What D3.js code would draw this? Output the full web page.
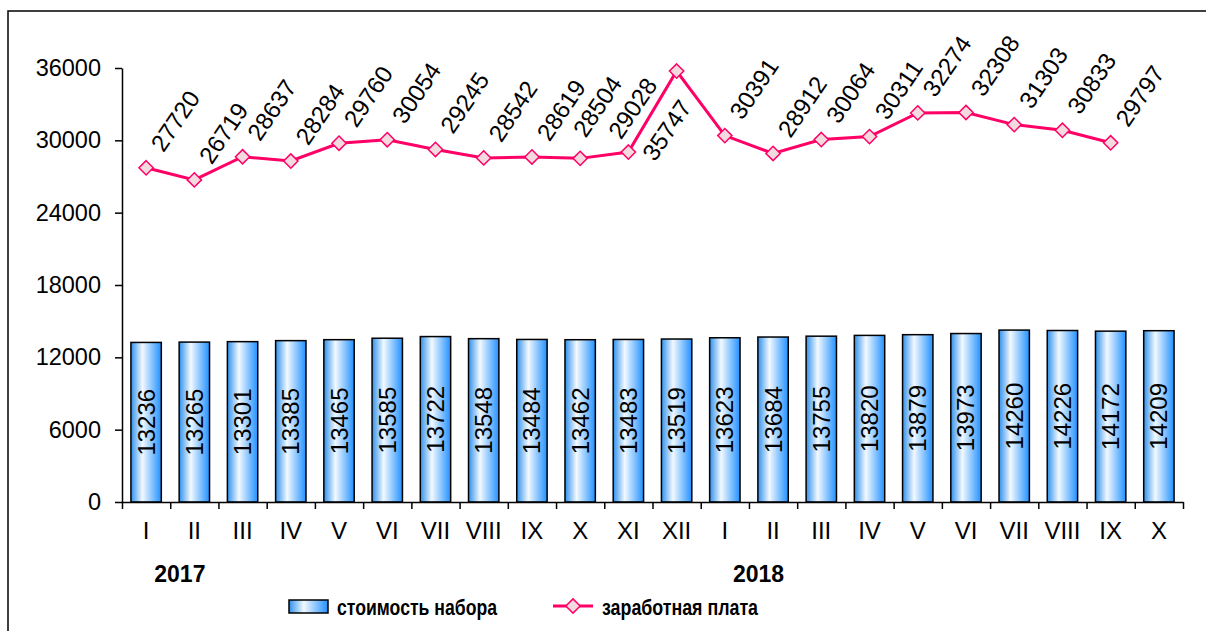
<!DOCTYPE html>
<html>
<head>
<meta charset="utf-8">
<script src="https://cdn.jsdelivr.net/npm/d3@7"></script>
<style>
  body { margin: 0; background: #fff; }
  text { font-family: Arial, "Liberation Sans", sans-serif; }
</style>
</head>
<body>
<div id="chart"></div>
<script>
// chart data
var months = ["I", "II", "III", "IV", "V", "VI", "VII", "VIII", "IX", "X", "XI", "XII",
              "I", "II", "III", "IV", "V", "VI", "VII", "VIII", "IX", "X"];
var years = [{label: "2017", start: 0}, {label: "2018", start: 12}];
var basketCost = [13236, 13265, 13301, 13385, 13465, 13585, 13722, 13548, 13484, 13462, 13483, 13519,
                  13623, 13684, 13755, 13820, 13879, 13973, 14260, 14226, 14172, 14209];
var salary = [27720, 26719, 28637, 28284, 29760, 30054, 29245, 28542, 28619, 28504, 29028, 35747,
              30391, 28912, 30064, 30311, 32274, 32308, 31303, 30833, 29797];
var yTicks = [0, 6000, 12000, 18000, 24000, 30000, 36000];
var seriesNames = ["стоимость  набора", "заработная  плата"];

// svg size and plot area
var svgWidth = 1206;
var svgHeight = 631;
var plot = {left: 122, right: 1183, top: 68, bottom: 502};

var lineColor = "#ff0066";
var markerFill = "#f2dade";
var fontSize = 24;

var svg = d3.select("#chart").append("svg")
    .attr("width", svgWidth)
    .attr("height", svgHeight);

// bar gradient
var grad = svg.append("defs").append("linearGradient")
    .attr("id", "barGrad")
    .attr("x1", "0%").attr("x2", "100%").attr("y1", "0%").attr("y2", "0%");
grad.append("stop").attr("offset", "0%").attr("stop-color", "#2f90ec");
grad.append("stop").attr("offset", "38%").attr("stop-color", "#f2f9ff");
grad.append("stop").attr("offset", "100%").attr("stop-color", "#2291ff");

// outer frame
svg.append("rect")
    .attr("x", 8).attr("y", 11)
    .attr("width", svgWidth + 20).attr("height", svgHeight + 20)
    .attr("fill", "none").attr("stroke", "#000").attr("stroke-width", 1.5);

// scales
var xScale = d3.scaleLinear()
    .domain([0, months.length])
    .range([plot.left, plot.right]);
var step = xScale(1) - xScale(0);
var barWidth = step * 0.63;

var yScale = d3.scaleLinear()
    .domain([0, 36000])
    .range([plot.bottom, plot.top]);

// y axis
var leftAxis = d3.axisLeft(yScale)
    .tickValues(yTicks)
    .tickFormat(d3.format("d"))
    .tickSize(7)
    .tickSizeOuter(0)
    .tickPadding(14);
var yAxis = svg.append("g")
    .attr("transform", `translate(${plot.left}, 0)`)
    .call(leftAxis);
yAxis.selectAll("text").attr("font-size", 23.5).attr("font-family", "Arial, 'Liberation Sans', sans-serif").attr("fill", "#000");

// bars
var bars = svg.append("g");
bars.selectAll("rect")
    .data(basketCost)
    .enter().append("rect")
    .attr("x", (d, i) => xScale(i + 0.5) - barWidth / 2)
    .attr("y", d => yScale(d))
    .attr("width", barWidth)
    .attr("height", d => yScale(0) - yScale(d))
    .attr("fill", "url(#barGrad)")
    .attr("stroke", "#000")
    .attr("stroke-width", 1.5);

bars.selectAll("text")
    .data(basketCost)
    .enter().append("text")
    .attr("transform", (d, i) => `translate(${xScale(i + 0.5) + 8.5}, ${(yScale(d) + yScale(0)) / 2}) rotate(-90)`)
    .attr("text-anchor", "middle")
    .attr("font-size", fontSize)
    .text(d => d);

// x axis with ticks at category boundaries
var bottomAxis = d3.axisBottom(xScale)
    .tickValues(d3.range(months.length + 1))
    .tickFormat("")
    .tickSize(7)
    .tickSizeOuter(0);
var xAxis = svg.append("g")
    .attr("transform", `translate(0, ${plot.bottom})`)
    .call(bottomAxis);

[yAxis, xAxis].forEach(function(ax) {
    ax.selectAll("path, line").attr("stroke", "#000").attr("stroke-width", 1.5);
});

svg.append("g").selectAll("text")
    .data(months)
    .enter().append("text")
    .attr("x", (d, i) => xScale(i + 0.5))
    .attr("y", 539)
    .attr("text-anchor", "middle")
    .attr("font-size", fontSize)
    .text(d => d);

svg.append("g").selectAll("text")
    .data(years)
    .enter().append("text")
    .attr("x", d => xScale(d.start + 1.2))
    .attr("y", 582)
    .attr("text-anchor", "middle")
    .attr("font-size", 23)
    .attr("font-weight", "bold")
    .text(d => d.label);

// salary line
var line = d3.line()
    .x((d, i) => xScale(i + 0.5))
    .y(d => yScale(d));

svg.append("path")
    .datum(salary)
    .attr("d", line)
    .attr("fill", "none")
    .attr("stroke", lineColor)
    .attr("stroke-width", 3);

var diamond = d3.symbol().type(d3.symbolDiamond2).size(130);

svg.append("g").selectAll("path")
    .data(salary)
    .enter().append("path")
    .attr("d", diamond)
    .attr("transform", (d, i) => `translate(${xScale(i + 0.5)}, ${yScale(d)})`)
    .attr("fill", markerFill)
    .attr("stroke", lineColor)
    .attr("stroke-width", 1.5);

// salary labels: centred up-right of the point, the peak one goes under it
// and the two before the peak get pushed left so they don't collide
var peak = d3.max(salary);
var peakIdx = salary.indexOf(peak);
function labelOffset(d, i) {
    if (i === peakIdx) return [-10, 59];
    if (i === peakIdx - 1) return [4, -44];
    if (i === peakIdx - 2) return [17, -52];
    return [29, -47];
}
svg.append("g").selectAll("text")
    .data(salary)
    .enter().append("text")
    .attr("transform", function(d, i) {
        var off = labelOffset(d, i);
        return `translate(${xScale(i + 0.5) + off[0]}, ${yScale(d) + off[1]}) rotate(-56)`;
    })
    .attr("text-anchor", "middle")
    .attr("dy", "0.36em")
    .attr("font-size", fontSize)
    .text(d => d);

// legend
var legend = svg.append("g").attr("font-weight", "bold").attr("font-size", 22);
legend.append("rect")
    .attr("x", 289).attr("y", 600)
    .attr("width", 39).attr("height", 13)
    .attr("fill", "url(#barGrad)")
    .attr("stroke", "#000").attr("stroke-width", 1.5);
legend.append("text")
    .attr("x", 337).attr("y", 615)
    .attr("textLength", 160).attr("lengthAdjust", "spacingAndGlyphs")
    .text(seriesNames[0]);

legend.append("line")
    .attr("x1", 553).attr("x2", 593)
    .attr("y1", 606).attr("y2", 606)
    .attr("stroke", lineColor).attr("stroke-width", 3);
legend.append("path")
    .attr("d", diamond)
    .attr("transform", "translate(573, 606)")
    .attr("fill", markerFill)
    .attr("stroke", lineColor)
    .attr("stroke-width", 1.5);
legend.append("text")
    .attr("x", 602).attr("y", 615)
    .attr("textLength", 156).attr("lengthAdjust", "spacingAndGlyphs")
    .text(seriesNames[1]);
</script>
</body>
</html>
